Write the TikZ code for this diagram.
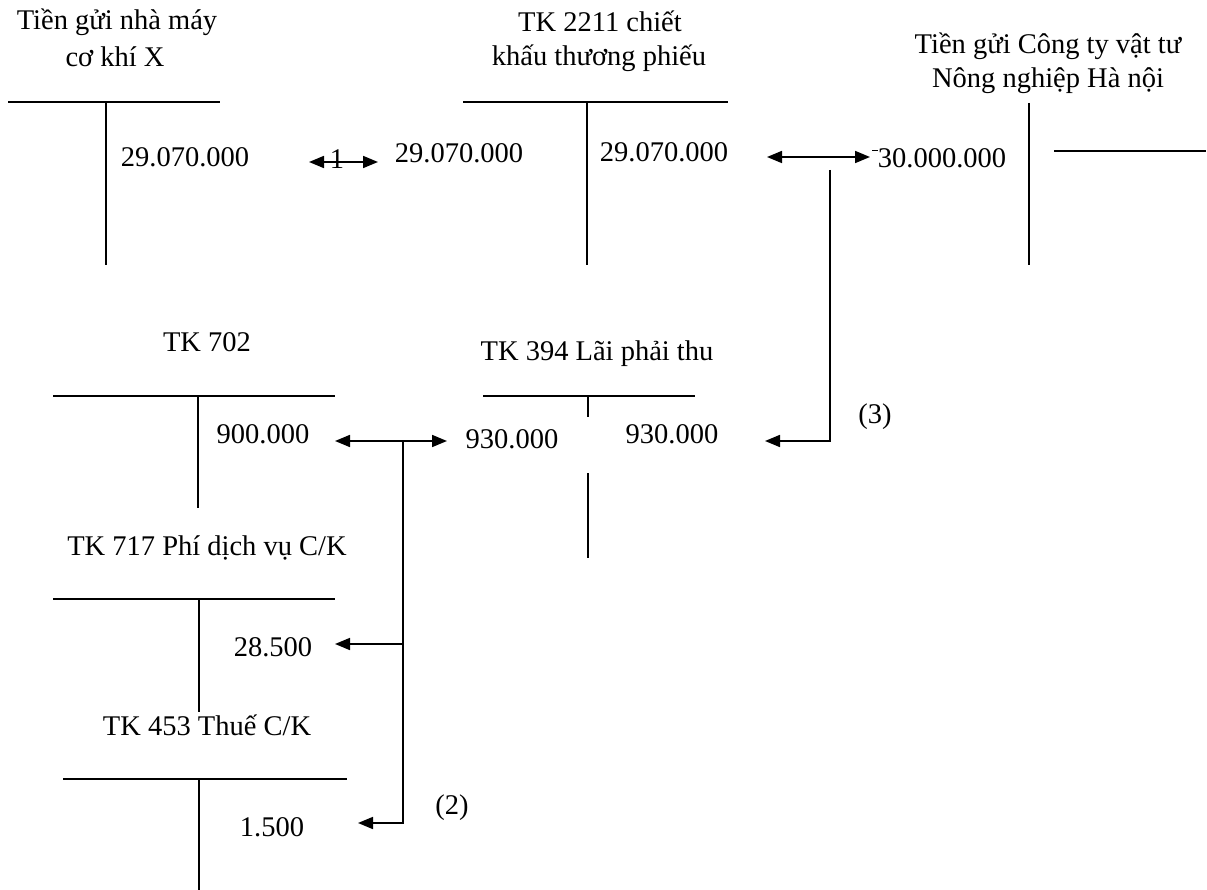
\documentclass[tikz,border=0pt]{standalone}
\usepackage{fontspec}
\setmainfont{Liberation Serif}
\usetikzlibrary{arrows.meta}
\begin{document}
\begin{tikzpicture}[x=1pt,y=-1pt,
  every node/.style={inner sep=0pt,outer sep=0pt,anchor=base,font=\fontsize{28.5}{34}\selectfont},
  tline/.style={line width=1.7pt},
  link/.style={line width=1.7pt},
  tip/.style={-{Triangle[length=15pt,width=12pt]}},
  both/.style={{Triangle[length=15pt,width=12pt]}-{Triangle[length=15pt,width=12pt]}}]
\useasboundingbox (0,0) rectangle (1207,890);

% account titles
\node (t1a) at (117,30) {Tiền gửi nhà máy};
\node (t1b) at (115,67) {cơ khí X};
\node (t2a) at (600,32) {TK 2211 chiết};
\node (t2b) at (599,66) {khấu thương phiếu};
\node (t3a) at (1048,54) {Tiền gửi Công ty vật tư};
\node (t3b) at (1048,88) {Nông nghiệp Hà nội};
\node (t702) at (207,352) {TK 702};
\node (t394) at (597,361) {TK 394 Lãi phải thu};
\node (t717) at (207,555) {TK 717 Phí dịch vụ C/K};
\node (t453) at (207,735) {TK 453 Thuế C/K};

% T-account rulings
\draw[tline] (8,102) -- (220,102) (106,102) -- (106,265);
\draw[tline] (463,102) -- (728,102) (587,102) -- (587,265);
\draw[tline] (1029,103) -- (1029,265) (1054,151) -- (1206,151);
\draw[tline] (53,396) -- (335,396) (198,396) -- (198,508);
\draw[tline] (483,396) -- (695,396) (588,396) -- (588,417) (588,473) -- (588,558);
\draw[tline] (53,599) -- (335,599) (199,599) -- (199,712);
\draw[tline] (63,779) -- (347,779) (199,779) -- (199,890);

% amounts
\node (v1) at (185,167) {29.070.000};
\node (v2) at (459,163) {29.070.000};
\node (v3) at (664,162) {29.070.000};
\node (v4) at (942,168) {30.000.000};
\node (v702) at (263,443) {900.000};
\node (v394a) at (512,448) {930.000};
\node (v394b) at (672,443) {930.000};
\node (v717) at (273,656) {28.500};
\node (v453) at (272,836) {1.500};

% entry numbers
\node (n1) at (337,169) {1};
\node (n2) at (452,814) {(2)};
\node (n3) at (875,423) {(3)};

% connector ends
\coordinate (a1l) at (309,162);
\coordinate (a1r) at (378,162);
\coordinate (a3l) at (767,157);
\coordinate (a3r) at (870,157);
\coordinate (a3top) at (830,170);
\coordinate (a3bot) at (830,441);
\coordinate (a3end) at (765,441);
\coordinate (a2l) at (335,441);
\coordinate (a2r) at (447,441);
\coordinate (a2top) at (403,441);
\coordinate (a2mid) at (403,644);
\coordinate (a2midend) at (335,644);
\coordinate (a2bot) at (403,823);
\coordinate (a2botend) at (358,823);
\coordinate (m1) at (872,150.5);
\coordinate (m2) at (878,150.5);

% entry (1)
\draw[link,both] (a1l) -- (a1r);
% entry (3)
\draw[link,both] (a3l) -- (a3r);
\draw[link,tip] (a3top) -- (a3bot) -- (a3end);
\draw[line width=1pt] (m1) -- (m2);
% entry (2)
\draw[link,both] (a2l) -- (a2r);
\draw[link,tip] (a2top) -- (a2bot) -- (a2botend);
\draw[link,tip] (a2mid) -- (a2midend);
\end{tikzpicture}
\end{document}
